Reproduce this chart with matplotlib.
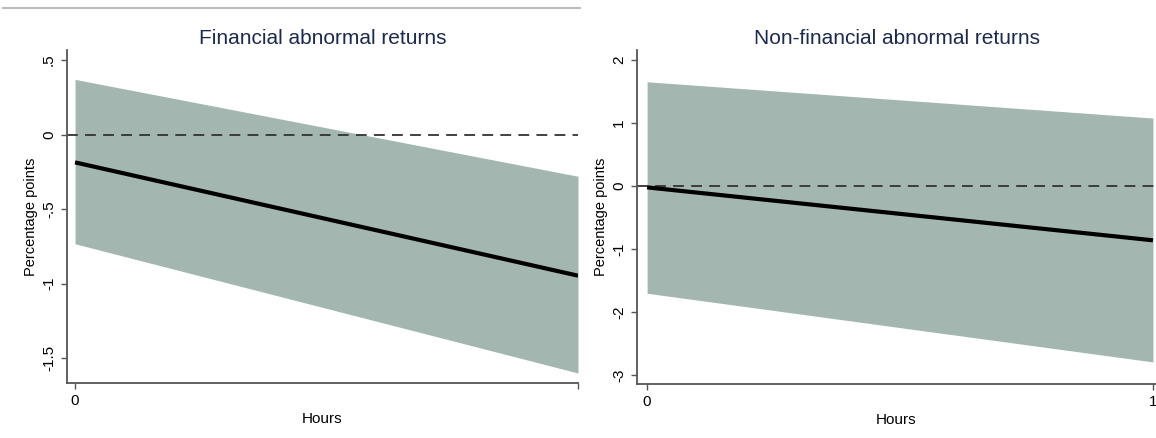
import matplotlib.pyplot as plt
from matplotlib.lines import Line2D

plt.rcParams['font.family'] = ['Liberation Sans', 'DejaVu Sans']

# hours after announcement
hours = [0, 1]

# financial firms: point estimate and confidence band
fin_est = [-0.187, -0.947]
fin_lo = [-0.733, -1.60]
fin_hi = [0.37, -0.28]

# non-financial firms
nonfin_est = [-0.02, -0.86]
nonfin_lo = [-1.70, -2.79]
nonfin_hi = [1.656, 1.08]

fin_yticks = [-1.5, -1, -0.5, 0, 0.5]
fin_ylabels = ["-1.5", "-1", "-.5", "0", ".5"]
nonfin_yticks = [-3, -2, -1, 0, 1, 2]
nonfin_ylabels = ["-3", "-2", "-1", "0", "1", "2"]

band_col = "#a3b7b0"
title_col = "#1c2a4d"
axis_col = "#555555"

W, H = 1156, 438
fig = plt.figure(figsize=(W / 100, H / 100), dpi=100)


def panel(rect, est, lo, hi, yticks, ylabels, ylim, xlim, xlabels, title):
    ax = fig.add_axes(rect)
    ax.fill_between(hours, lo, hi, color=band_col, lw=0, zorder=1)
    ax.axhline(0, color="#333333", lw=1.3, ls=(0, (6, 4)), zorder=2)
    ax.plot(hours, est, color="black", lw=3, zorder=3, solid_capstyle="butt")
    ax.set_xlim(*xlim)
    ax.set_ylim(*ylim)
    ax.set_xticks([0, 1])
    ax.set_xticklabels(xlabels)
    ax.set_yticks(yticks)
    ax.set_yticklabels(ylabels, rotation=90, va="center")
    ax.tick_params(length=4, width=1, color=axis_col, labelsize=11, pad=4)
    for s in ["top", "right"]:
        ax.spines[s].set_visible(False)
    for s in ["left", "bottom"]:
        ax.spines[s].set_color(axis_col)
        ax.spines[s].set_linewidth(1.3)
    ax.set_xlabel("Hours", fontsize=11, labelpad=3)
    ax.set_ylabel("Percentage points", fontsize=10.5, labelpad=3)
    ax.set_title(title, fontsize=15, color=title_col, pad=4)
    return ax


# left panel is cut off at its right edge, so its "1" label is not shown
ax1 = panel([67 / W, 55 / H, 511 / W, 333 / H], fin_est, fin_lo, fin_hi,
            fin_yticks, fin_ylabels, (-1.667, 0.567), (-0.016, 1.0),
            ["0", ""], "Financial abnormal returns")
ax2 = panel([637 / W, 54 / H, 519 / W, 334 / H], nonfin_est, nonfin_lo, nonfin_hi,
            nonfin_yticks, nonfin_ylabels, (-3.14, 2.16), (-0.02, 1.006),
            ["0", "1"], "Non-financial abnormal returns")

# frame line along the top of the left panel
fig.add_artist(Line2D([3 / W, 580 / W], [1 - 8 / H, 1 - 8 / H],
                      transform=fig.transFigure, color="#bbbbbb", lw=1.5))

fig.savefig("out.png", dpi=100)
